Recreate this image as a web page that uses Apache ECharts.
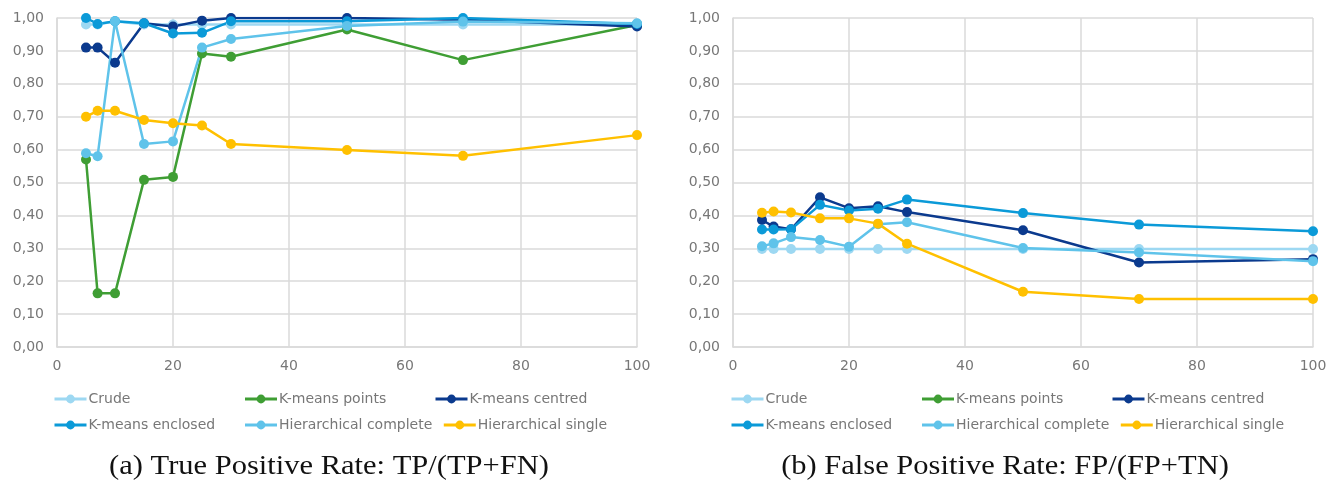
<!DOCTYPE html>
<html>
<head>
<meta charset="utf-8">
<script src="https://cdn.jsdelivr.net/npm/echarts@6/dist/echarts.min.js"></script>
<style>
  html, body { margin: 0; padding: 0; background: #ffffff; }
  #chart { width: 1336px; height: 483px; }
</style>
</head>
<body>
<div id="chart"></div>
<script>
// Number of clusters / sample sizes along the x axis
const xValues = [5, 7, 10, 15, 20, 25, 30, 50, 70, 100];

const seriesNames = ['Crude', 'K-means points', 'K-means centred',
  'K-means enclosed', 'Hierarchical complete', 'Hierarchical single'];
const seriesColors = ['#9dd8f2', '#3f9e34', '#0b3a8e', '#0b9ad8', '#5fc3ea', '#ffc000'];

// (a) True positive rate
const tprCrude          = [0.98, 0.98, 0.99, 0.98, 0.98, 0.98, 0.98, 0.98, 0.98, 0.98];
const tprKmeansPoints   = [0.57, 0.163, 0.163, 0.508, 0.517, 0.892, 0.882, 0.965, 0.872, 0.979];
const tprKmeansCentred  = [0.91, 0.91, 0.864, 0.984, 0.974, 0.992, 1.0, 1.0, 0.995, 0.974];
const tprKmeansEnclosed = [1.0, 0.982, 0.99, 0.984, 0.953, 0.955, 0.99, 0.99, 1.0, 0.982];
const tprHierComplete   = [0.589, 0.58, 0.99, 0.617, 0.625, 0.91, 0.936, 0.976, 0.989, 0.984];
const tprHierSingle     = [0.70, 0.718, 0.718, 0.69, 0.68, 0.673, 0.617, 0.599, 0.581, 0.644];

// (b) False positive rate
const fprCrude          = [0.298, 0.298, 0.298, 0.298, 0.298, 0.298, 0.298, 0.298, 0.298, 0.298];
const fprKmeansPoints   = [null, null, null, null, null, null, null, null, null, null];
const fprKmeansCentred  = [0.386, 0.366, 0.358, 0.455, 0.422, 0.428, 0.41, 0.355, 0.257, 0.267];
const fprKmeansEnclosed = [0.357, 0.357, 0.358, 0.432, 0.415, 0.42, 0.448, 0.407, 0.372, 0.352];
const fprHierComplete   = [0.306, 0.315, 0.334, 0.325, 0.305, 0.373, 0.379, 0.301, 0.287, 0.261];
const fprHierSingle     = [0.408, 0.412, 0.409, 0.391, 0.391, 0.375, 0.314, 0.168, 0.146, 0.146];

const xTicks = [0, 20, 40, 60, 80, 100];
const captions = ['(a) True Positive Rate: TP/(TP+FN)', '(b) False Positive Rate: FP/(FP+TN)'];

const tprSets = [tprCrude, tprKmeansPoints, tprKmeansCentred, tprKmeansEnclosed, tprHierComplete, tprHierSingle];
const fprSets = [fprCrude, fprKmeansPoints, fprKmeansCentred, fprKmeansEnclosed, fprHierComplete, fprHierSingle];

const labelColor = '#777777';
const gridColor = '#dadada';
const font = 'DejaVu Sans';

function pairs(values) {
  return xValues.map((x, i) => [x, values[i]]);
}

function xAxis(gridIndex) {
  return {
    type: 'value', gridIndex, min: xTicks[0], max: xTicks[xTicks.length - 1], interval: 20,
    axisLine: { show: true, lineStyle: { color: gridColor, width: 1.5 } },
    axisTick: { show: false },
    splitLine: { show: true, lineStyle: { color: gridColor, width: 1.5 } },
    axisLabel: { color: labelColor, fontFamily: font, fontSize: 14, margin: 12 }
  };
}

function yAxis(gridIndex) {
  return {
    type: 'value', gridIndex, min: 0, max: 1, interval: 0.1,
    axisLine: { show: true, lineStyle: { color: gridColor, width: 1.5 } },
    axisTick: { show: false },
    splitLine: { show: true, lineStyle: { color: gridColor, width: 1.5 } },
    axisLabel: {
      color: labelColor, fontFamily: font, fontSize: 14, margin: 13,
      formatter: v => v.toFixed(2).replace('.', ',')
    }
  };
}

function lineSeries(sets, axisIndex) {
  return sets.map((values, k) => ({
    name: seriesNames[k],
    type: 'line',
    xAxisIndex: axisIndex,
    yAxisIndex: axisIndex,
    data: pairs(values),
    symbol: 'circle',
    symbolSize: 10,
    showSymbol: true,
    connectNulls: false,
    animation: false,
    itemStyle: { color: seriesColors[k] },
    lineStyle: { color: seriesColors[k], width: 2.5 }
  }));
}

function legend(left) {
  return {
    left, top: 391, width: 590, padding: 0,
    itemWidth: 32, itemHeight: 11, itemGap: 10,
    data: seriesNames,
    lineStyle: { width: 3 },
    textStyle: {
      color: labelColor, fontFamily: font, fontSize: 14, width: 145, lineHeight: 16,
      overflow: 'none', padding: [0, 0, 0, -3]
    }
  };
}

function caption(cx, text) {
  return {
    type: 'text', x: cx, y: 480, scaleX: 1.13, originX: 0, originY: 0,
    style: {
      text, fill: '#111111', fontFamily: 'Liberation Serif', fontSize: 27,
      textAlign: 'center', textVerticalAlign: 'bottom'
    }
  };
}

const chart = echarts.init(document.getElementById('chart'), null, { renderer: 'canvas' });
chart.setOption({
  backgroundColor: '#ffffff',
  animation: false,
  color: seriesColors,
  grid: [
    { left: 57, right: 699, top: 18, bottom: 136 },
    { left: 733, right: 23, top: 18, bottom: 136 }
  ],
  xAxis: [xAxis(0), xAxis(1)],
  yAxis: [yAxis(0), yAxis(1)],
  legend: [legend(53), legend(730)],
  series: [...lineSeries(tprSets, 0), ...lineSeries(fprSets, 1)],
  graphic: [caption(329, captions[0]), caption(1005, captions[1])]
});
</script>
</body>
</html>
